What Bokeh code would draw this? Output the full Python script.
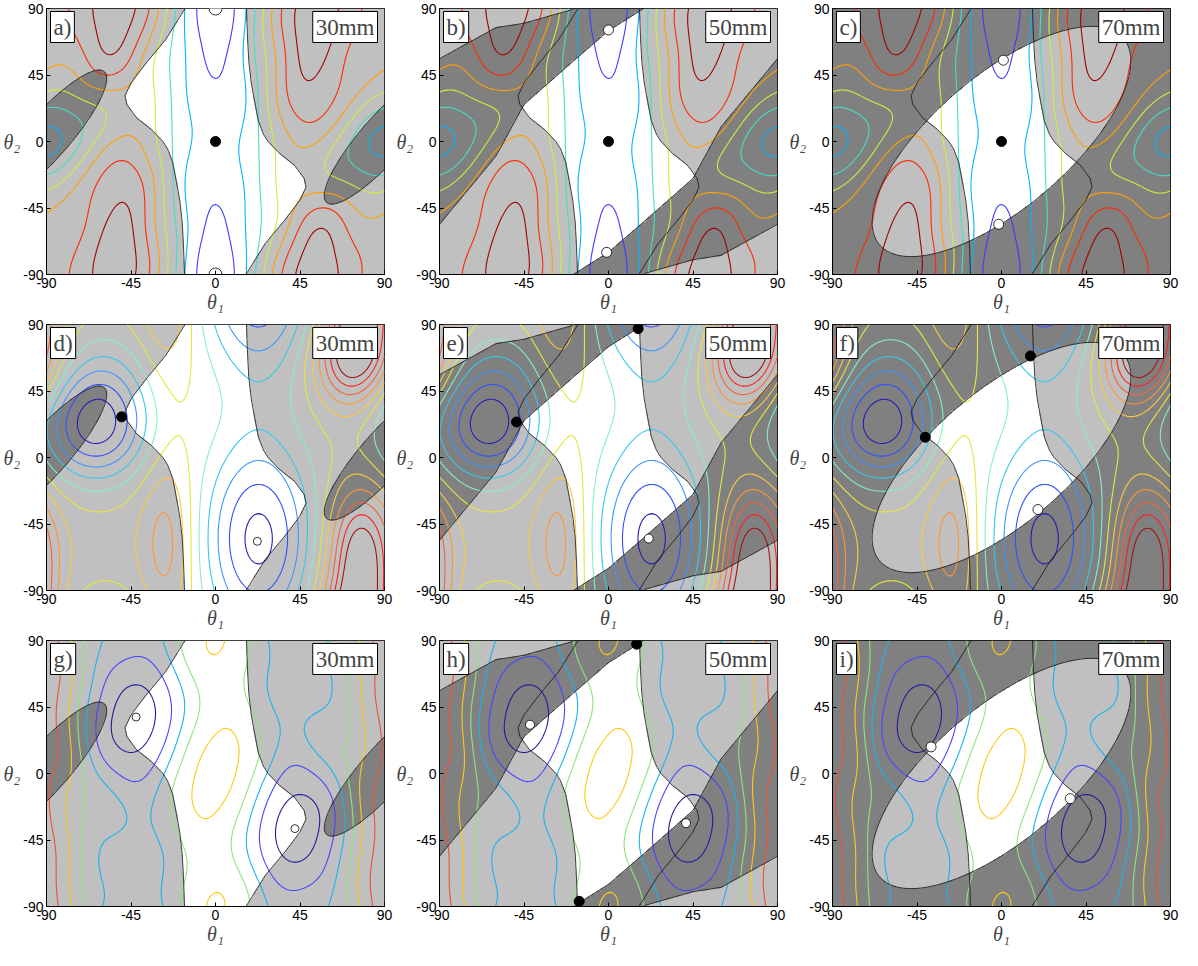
import numpy as np
from bokeh.plotting import figure
from bokeh.layouts import column, row
from bokeh.models import Label, LinearColorMapper, Range1d
from bokeh.embed import file_html
from bokeh.resources import INLINE

TICKS = [-90, -45, 0, 45, 90]
TICK_TEXT = {-90: "-90", -45: "-45", 0: "0", 45: "45", 90: "90"}
DIST_LABELS = ["30mm", "50mm", "70mm"]
PANEL_LETTERS = ["a)", "b)", "c)", "d)", "e)", "f)", "g)", "h)", "i)"]
SHADES = ["#ffffff", "#c0c0c0", "#808080"]

# ---------- boundary of the central stable stripe (left edge; right edge by point symmetry)
STRIPE_T2 = [-90, -72, -55, -40, -28, -14, -5, 0, 8, 16, 25, 31, 40, 53, 69, 90]
STRIPE_T1 = [-16.5, -17, -17.7, -19, -20.7, -22.8, -25.5, -28, -34, -42, -47.2, -48.2, -44.8, -37, -26.5, -16.2]

# ---------- 30 mm : ellipses on the left / right edges
E30_CX = [-90, 90]
E30_CY = [3, 3]
E30_ANGLE, E30_A, E30_B = 56, 54, 13
# ---------- 50 mm : diagonal band (centre line and half width vs theta1)
B50_T1 = [-90, -60, -45, -20, 0, 20, 45, 60, 90]
B50_C = [0, 33.5, 52.5, 71, 90, 109, 127.5, 146.5, 180]
B50_W = [56, 43.5, 27.5, 18, 15, 18, 27.5, 43.5, 56]
# ---------- 70 mm : central ellipse
E70_ANGLE, E70_A, E70_B = 50, 96, 40

# ---------- row 1 contour points (theta1, theta2, level)
R1_T1 = [-10, -8, -5, 0, 5, 8, 11,
         -17, -16, -13, -15, -16, -90, -83, -85, -90,
         -21, -24, -24, -22, -20, -90, -78, -71.5, -72, -80, -90,
         -27, -33, -32, -31, -28, -26, -90, -70, -57.5, -61, -70, -80, -90,
         -90, -70, -51, -42, -36, -31, -90, -72, -62, -56, -48, -42, -35, -32, -30,
         -79, -70, -58, -46, -39, -34, -75, -66, -56, -46, -38, -34,
         -68, -63, -57, -49, -44, -63, -56, -49, -45, -44,
         0, 0, -90, -55, -90, -45, -20, -8, -80]
R1_T2 = [90, 70, 52, 42, 52, 70, 90,
         90, 50, 0, -50, -90, 14, 4, -5, -8,
         90, 45, 0, -45, -90, 24, 19, 10, -5, -15, -21,
         90, 56, 25, 5, -30, -90, 35, 28, 17, 3, -11, -24, -33,
         49, 40, 34, 45, 65, 90, -47, -25, -6, 1, 3, 0, -12, -45, -90,
         90, 62, 46, 58, 75, 90, -90, -45, -18, -16, -40, -90,
         90, 66, 57, 64, 90, -90, -50, -35, -52, -90,
         90, 0, 0, -78, 90, 15, 45, 0, 0]
R1_V = [1] * 7 + [2] * 9 + [3] * 11 + [4] * 13 + [5] * 15 + [6] * 12 + [7] * 10 + \
       [0.4, 1.5, 1.6, 7.7, 5.5, 4.6, 2.5, 1.8, 2.2]
R1_COLORS = ["#3c3cff", "#00b4ff", "#40e0c8", "#c8f03c", "#ffa000", "#ff2800", "#a00000"]

# ---------- row 3 contour points
R3_T1 = [-56, -31, -44, -44, -51, -37, -52, -36,
         -64, -62, -55, -43, -30, -23, -26, -32, -41, -55, -62,
         -60, -61, -60, -68, -66, -62, -27, -29, -29, -18, -20, -28,
         -69, -70, -70, -73, -70, -68, -20, -19, -18, -9, -12, -18, -70,
         7.5, -2.2, -10.7, -12.8, -7.5, 2.2, 10.7, 12.8, -80, -80, -79, -79, -78, -3, 4, 1, -80,
         -87, -86, -88, -86, -87,
         -44, 0, -90, -45, 0, 0, 1, -45, -90, -90, -90, -90, -90, -90]
R3_T2 = [37, 37, 60, 15, 54, 19, 22, 53,
         26, 50, 70, 79, 70, 54, 25, 8, -5, 0, 10,
         0, -45, -90, 30, 60, 90, 0, -45, -90, 35, 60, 90,
         0, -45, -90, 38, 70, 90, 0, -45, -90, 40, 65, 90, -20,
         30, 23, 2.7, -19.3, -30, -23, -2.7, 19.3, 0, -45, -90, 45, 90, 90, 90, 78, -20,
         0, -45, -88, 45, 90,
         37, 0, 0, -45, 45, -45, 88, 90, -82, 90, -60, -30, 30, 60]
R3_V = [1] * 8 + [2] * 11 + [3] * 12 + [4] * 13 + [5] * 17 + [6] * 5 + \
       [0.6, 5.3, 6.3, 2.8, 4.6, 4.6, 5.15, 2.4, 7.05, 6.6, 6.45, 6.3, 6.3, 6.4]
R3_COLORS = ["#1e1e9b", "#4646ff", "#14b4f0", "#8ce678", "#ffc814", "#f0502d", "#8c1414"]

# ---------- row 2 field: base level plus minima / maxima (centre, amplitude, widths)
R2_BASE = 6.6
R2_CX = [-64, -58, 23, 73, 77, -26]
R2_CY = [21, 62, -55, 66, -65, -58]
R2_AMP = [-6.0, -1.4, -5.9, 5.0, 5.5, 2.2]
R2_SX = [21, 18, 22, 14, 12, 10]
R2_SY = [27, 24, 50, 22, 30, 42]
R2_COLORS = ["#2020b4", "#3050ff", "#3c96ff", "#32c8f0", "#82f0c8", "#e6e63c",
             "#ffc83c", "#ff9632", "#f0643c", "#ff1e1e", "#a01414"]

# ---------- equilibrium markers
BLACK_PANEL = [0, 1, 2, 3, 4, 4, 5, 5, 7, 7]
BLACK_X = [0, 0, 0, -50, -49, 15.8, -40.6, 15.4, 15, -15.6]
BLACK_Y = [0, 0, 0, 27.5, 24, 87.2, 13.7, 68.7, 87.5, -86.5]
WHITE_PANEL = [0, 0, 1, 1, 2, 2, 3, 4, 5, 6, 6, 7, 7, 8, 8]
WHITE_X = [0, 0, 0, -1, 1, -1.5, 22.3, 21.4, 19.4, -42.3, 42.3, -41.8, 41.3, -37.5, 36.6]
WHITE_Y = [90, -90, 75.5, -75, 55, -56, -56.7, -54.8, -35.2, 38.2, -37.3, 33, -33.6, 18, -17]
WHITE_SIZE = [13, 13, 10, 10, 10, 10, 8, 9, 10, 8, 8, 9, 9, 10, 10]

# ================= fields =================
xg = np.linspace(-90, 90, 181)
G1, G2 = np.meshgrid(xg, xg)
ximg = -90 + (np.arange(360) + 0.5) * 0.5
I1, I2 = np.meshgrid(ximg, ximg)


def stripe_field(t1, t2):
    xl = np.interp(t2, STRIPE_T2, STRIPE_T1)
    xr = -np.interp(-t2, STRIPE_T2, STRIPE_T1)
    return np.maximum(xl - t1, t1 - xr)


def ellipse_q(t1, t2, cx, cy, ang, a, b):
    ca, sa = np.cos(np.radians(ang)), np.sin(np.radians(ang))
    X, Y = t1 - cx, t2 - cy
    u = X * ca + Y * sa
    v = -X * sa + Y * ca
    return (u / a) ** 2 + (v / b) ** 2


def dark_field(col, t1, t2):
    if col == 0:
        q = np.minimum(ellipse_q(t1, t2, E30_CX[0], E30_CY[0], E30_ANGLE, E30_A, E30_B),
                       ellipse_q(t1, t2, E30_CX[1], E30_CY[1], E30_ANGLE, E30_A, E30_B))
        return 1.0 - np.sqrt(q)
    if col == 1:
        c = np.interp(t1, B50_T1, B50_C)
        w = np.interp(t1, B50_T1, B50_W)
        d = (t2 - c + 90.0) % 180.0 - 90.0
        return (w - np.abs(d)) / w
    q = ellipse_q(t1, t2, 0, 0, E70_ANGLE, E70_A, E70_B)
    return np.sqrt(q) - 1.0


def basis(t1, t2, k1, k2, sym):
    a = np.radians(2.0 * np.asarray(t1, float))
    b = np.radians(2.0 * np.asarray(t2, float))
    cols, pen = [], []
    for m in range(0, k1 + 1):
        for n in range(-k2, k2 + 1):
            if m == 0 and n < 0:
                continue
            arg = m * a + n * b
            cols.append(np.cos(arg))
            pen.append((m * m + n * n) ** 2)
            if not sym and not (m == 0 and n == 0):
                cols.append(np.sin(arg))
                pen.append((m * m + n * n) ** 2)
    return np.stack(cols, axis=-1), np.array(pen, float)


def fit_field(t1, t2, v, k1, k2, sym, lam):
    A, pen = basis(t1, t2, k1, k2, sym)
    M = A.T @ A + lam * np.diag(pen)
    coef = np.linalg.solve(M, A.T @ np.asarray(v, float))
    B, _ = basis(G1, G2, k1, k2, sym)
    return B @ coef


def pgauss(cx, cy, sx, sy):
    out = np.zeros_like(G1)
    for dx in (-180, 0, 180):
        for dy in (-180, 0, 180):
            out += np.exp(-0.5 * (((G1 - cx - dx) / sx) ** 2 + ((G2 - cy - dy) / sy) ** 2))
    return out


P1 = fit_field(R1_T1, R1_T2, R1_V, 5, 3, True, 1e-2)
P3 = fit_field(R3_T1, R3_T2, R3_V, 5, 3, True, 1e-2)
P2 = R2_BASE + sum(a * pgauss(cx, cy, sx, sy)
                   for cx, cy, a, sx, sy in zip(R2_CX, R2_CY, R2_AMP, R2_SX, R2_SY))
P_ROWS = [P1, P2, P3]
COLORS = [R1_COLORS, R2_COLORS, R3_COLORS]
LEVELS = [list(range(1, 8)), list(range(1, 12)), list(range(1, 8))]

F_grid = stripe_field(G1, G2)
F_img = stripe_field(I1, I2)

mapper = LinearColorMapper(palette=SHADES, low=0, high=2)
SERIF = "Liberation Serif"
SANS = "Liberation Sans"


def make_panel(r, c):
    k = 3 * r + c
    p = figure(frame_width=338, frame_height=266, x_range=Range1d(-90, 90), y_range=Range1d(-90, 90),
               output_backend="svg", toolbar_location=None,
               min_border_left=46, min_border_right=9, min_border_top=8, min_border_bottom=42)
    p.grid.visible = False
    p.outline_line_color = "black"
    p.outline_line_width = 1
    p.background_fill_color = "white"
    p.border_fill_color = "white"

    D_img = dark_field(c, I1, I2)
    shade = np.where(D_img > 0, 2, np.where(F_img < 0, 0, 1)).astype(float)
    p.image(image=[shade], x=-90, y=-90, dw=180, dh=180, color_mapper=mapper)

    p.contour(x=xg, y=xg, z=P_ROWS[r], levels=LEVELS[r], line_color=COLORS[r], line_width=1.1)
    p.contour(x=xg, y=xg, z=F_grid, levels=[0], line_color="#1a1a1a", line_width=0.9)
    p.contour(x=xg, y=xg, z=dark_field(c, G1, G2), levels=[0], line_color="#1a1a1a", line_width=0.9)

    bx = [x for x, q in zip(BLACK_X, BLACK_PANEL) if q == k]
    by = [y for y, q in zip(BLACK_Y, BLACK_PANEL) if q == k]
    if bx:
        p.scatter(bx, by, size=10, fill_color="black", line_color="black")
    wx = [x for x, q in zip(WHITE_X, WHITE_PANEL) if q == k]
    wy = [y for y, q in zip(WHITE_Y, WHITE_PANEL) if q == k]
    ws = [s for s, q in zip(WHITE_SIZE, WHITE_PANEL) if q == k]
    if wx:
        p.scatter(wx, wy, size=ws, fill_color="white", line_color="black", line_width=0.8)

    for ax in (p.xaxis[0], p.yaxis[0]):
        ax.ticker = TICKS
        ax.major_label_overrides = dict(TICK_TEXT)
        ax.major_tick_in = 4
        ax.major_tick_out = 0
        ax.minor_tick_line_color = None
        ax.major_label_text_font = SANS
        ax.major_label_text_font_size = "14px"
        ax.major_label_text_color = "black"
        ax.axis_line_color = "black"
        ax.major_label_standoff = 3
    p.xaxis.axis_label = "θ₁"
    p.xaxis.axis_label_text_font = SERIF
    p.xaxis.axis_label_text_font_style = "italic"
    p.xaxis.axis_label_text_font_size = "20px"
    p.xaxis.axis_label_standoff = 0

    yax = p.yaxis[0]
    if "axis_label_orientation" in yax.properties():
        yax.axis_label = "θ₂"
        yax.axis_label_orientation = "horizontal"
        yax.axis_label_text_font = SERIF
        yax.axis_label_text_font_style = "italic"
        yax.axis_label_text_font_size = "20px"
        yax.axis_label_standoff = 0
    else:
        yax.major_label_overrides = {-90: "-90", -45: "-45", 0: "θ₂  0", 45: "45", 90: "90"}

    p.add_layout(Label(x=-90, y=90, x_offset=4, y_offset=-3, text=PANEL_LETTERS[k], text_align="left",
                       text_baseline="top", text_font=SERIF, text_font_size="23px",
                       background_fill_color="white", border_line_color="black", border_line_width=1,
                       padding=3))
    p.add_layout(Label(x=90, y=90, x_offset=-7, y_offset=-3, text=DIST_LABELS[c], text_align="right",
                       text_baseline="top", text_font=SERIF, text_font_size="23px",
                       background_fill_color="white", border_line_color="black", border_line_width=1,
                       padding=3))
    return p


layout = column(*[row(*[make_panel(r, c) for c in range(3)]) for r in range(3)])
open("out.html", "w").write(file_html(layout, INLINE))
